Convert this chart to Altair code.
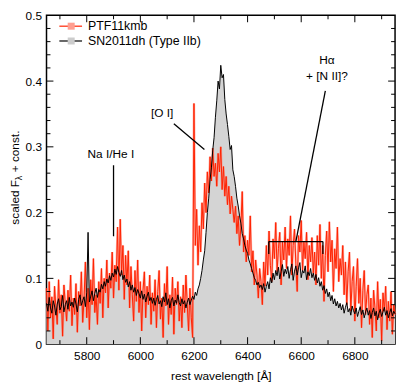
import altair as alt
import pandas as pd

# ---------------- data ----------------
wavelength = list(range(5650, 6955, 5))

sn2011dh = [
    0.062, 0.050, 0.071, 0.055, 0.047, 0.066, 0.058, 0.044, 0.061, 0.069, 0.052, 0.057, 0.074, 0.049, 0.060, 0.066, 0.053, 0.071, 0.058, 0.064,
    0.056, 0.070, 0.061, 0.049, 0.068, 0.075, 0.059, 0.066, 0.072, 0.057, 0.078, 0.170, 0.064, 0.073, 0.081, 0.066, 0.077, 0.085, 0.071, 0.083,
    0.079, 0.091, 0.084, 0.095, 0.088, 0.099, 0.093, 0.104, 0.097, 0.108, 0.102, 0.114, 0.106, 0.118, 0.109, 0.103, 0.112, 0.098, 0.105, 0.094,
    0.099, 0.087, 0.095, 0.082, 0.090, 0.079, 0.086, 0.074, 0.083, 0.077, 0.070, 0.081, 0.068, 0.076, 0.064, 0.073, 0.079, 0.066, 0.071, 0.062,
    0.070, 0.059, 0.068, 0.074, 0.061, 0.066, 0.057, 0.072, 0.064, 0.078, 0.060, 0.069, 0.055, 0.066, 0.071, 0.058, 0.067, 0.062, 0.075, 0.063,
    0.058, 0.069, 0.061, 0.066, 0.055, 0.064, 0.070, 0.060, 0.067, 0.073, 0.068, 0.079, 0.074, 0.084, 0.090, 0.100, 0.112, 0.128, 0.142, 0.170,
    0.200, 0.222, 0.250, 0.268, 0.295, 0.314, 0.345, 0.370, 0.400, 0.388, 0.424, 0.405, 0.410, 0.372, 0.350, 0.334, 0.316, 0.296, 0.302, 0.265,
    0.255, 0.240, 0.222, 0.210, 0.195, 0.184, 0.168, 0.160, 0.150, 0.143, 0.138, 0.128, 0.122, 0.115, 0.108, 0.101, 0.097, 0.090, 0.094, 0.086,
    0.090, 0.083, 0.092, 0.079, 0.088, 0.095, 0.084, 0.101, 0.093, 0.108, 0.098, 0.112, 0.104, 0.117, 0.099, 0.110, 0.121, 0.103, 0.114, 0.107,
    0.118, 0.100, 0.113, 0.122, 0.097, 0.111, 0.119, 0.105, 0.116, 0.124, 0.101, 0.112, 0.108, 0.119, 0.098, 0.110, 0.104, 0.115, 0.101, 0.108,
    0.097, 0.106, 0.093, 0.101, 0.088, 0.095, 0.082, 0.089, 0.077, 0.084, 0.072, 0.079, 0.066, 0.074, 0.061, 0.069, 0.058, 0.065, 0.055, 0.062,
    0.052, 0.060, 0.047, 0.056, 0.063, 0.049, 0.054, 0.044, 0.058, 0.051, 0.046, 0.055, 0.042, 0.050, 0.057, 0.045, 0.052, 0.040, 0.049, 0.055,
    0.044, 0.051, 0.039, 0.048, 0.055, 0.043, 0.050, 0.037, 0.047, 0.053, 0.042, 0.049, 0.056, 0.044, 0.051, 0.040, 0.048, 0.054, 0.043, 0.050,
    0.046,
]

ptf11kmb = [
    0.085, 0.020, 0.095, 0.040, 0.072, 0.008, 0.088, 0.055, 0.030, 0.098, 0.047, 0.075, 0.012, 0.090, 0.062, 0.035, 0.082, 0.050, 0.105, 0.028,
    0.070, 0.045, 0.092, 0.018, 0.080, 0.058, 0.110, 0.033, 0.068, 0.125, 0.040, 0.085, 0.022, 0.098, 0.060, 0.130, 0.048, 0.075, 0.030, 0.095,
    0.062, 0.115, 0.040, 0.100, 0.078, 0.128, 0.055, 0.108, 0.085, 0.140, 0.070, 0.120, 0.095, 0.178, 0.082, 0.190, 0.105, 0.150, 0.068, 0.135,
    0.090, 0.142, 0.055, 0.118, 0.075, 0.035, 0.112, 0.065, 0.128, 0.048, 0.095, 0.020, 0.082, 0.110, 0.040, 0.088, 0.060, 0.105, 0.030, 0.078,
    0.050, 0.098, 0.025, 0.080, 0.112, 0.038, 0.070, 0.010, 0.092, 0.058, 0.118, 0.030, 0.075, 0.045, 0.102, 0.015, 0.085, 0.060, 0.095, 0.035,
    0.072, 0.025, 0.090, 0.048, 0.105, 0.060, 0.020, 0.085, 0.040, 0.010, 0.366, 0.150, 0.205, 0.120, 0.180, 0.140, 0.215, 0.175, 0.245, 0.200,
    0.262, 0.230, 0.285, 0.248, 0.298, 0.255, 0.275, 0.240, 0.290, 0.262, 0.300, 0.235, 0.270, 0.225, 0.255, 0.212, 0.240, 0.198, 0.225, 0.205,
    0.185, 0.210, 0.168, 0.195, 0.150, 0.178, 0.232, 0.140, 0.165, 0.125, 0.158, 0.135, 0.195, 0.110, 0.142, 0.090, 0.128, 0.105, 0.070, 0.115,
    0.095, 0.060, 0.125, 0.088, 0.150, 0.105, 0.172, 0.120, 0.095, 0.160, 0.130, 0.185, 0.110, 0.145, 0.170, 0.090, 0.155, 0.128, 0.178, 0.115,
    0.160, 0.135, 0.195, 0.105, 0.150, 0.175, 0.122, 0.080, 0.165, 0.140, 0.188, 0.112, 0.155, 0.130, 0.170, 0.098, 0.150, 0.125, 0.162, 0.108,
    0.140, 0.090, 0.165, 0.120, 0.182, 0.100, 0.150, 0.065, 0.135, 0.172, 0.110, 0.186, 0.125, 0.158, 0.080, 0.145, 0.115, 0.178, 0.095, 0.130,
    0.105, 0.150, 0.075, 0.125, 0.060, 0.110, 0.140, 0.050, 0.095, 0.118, 0.035, 0.088, 0.130, 0.062, 0.100, 0.025, 0.082, 0.112, 0.045, 0.075,
    0.090, 0.030, 0.070, 0.010, 0.082, 0.055, 0.020, 0.095, 0.040, 0.068, 0.005, 0.078, 0.050, 0.088, 0.022, 0.065, 0.035, 0.080, 0.015, 0.060,
    0.045,
]

x_label_values = [5800, 6000, 6200, 6400, 6600, 6800]
x_minor_ticks = [5700, 5900, 6100, 6300, 6500, 6700, 6900]
y_label_values = [0, 0.1, 0.2, 0.3, 0.4, 0.5]
y_major_ticks = [0.1, 0.2, 0.3, 0.4]
y_minor_ticks = [0.02, 0.04, 0.06, 0.08, 0.12, 0.14, 0.16, 0.18, 0.22, 0.24, 0.26, 0.28,
                 0.32, 0.34, 0.36, 0.38, 0.42, 0.44, 0.46, 0.48]

legend_labels = ["PTF11kmb", "SN2011dh (Type IIb)"]

# annotation texts and anchor points (data coordinates)
ann_text = ["Na I/He I", "[O I]", "Hα", "+ [N II]?"]
ann_text_x = [5890, 6081, 6696, 6696]
ann_text_y = [0.289, 0.351, 0.432, 0.407]

ann_seg_x = [5900, 6125, 6580, 6479, 6479, 6681]
ann_seg_y = [0.272, 0.335, 0.156, 0.156, 0.156, 0.156]
ann_seg_x2 = [5900, 6239, 6690, 6681, 6479, 6681]
ann_seg_y2 = [0.164, 0.296, 0.385, 0.156, 0.137, 0.137]

# ---------------- layout ----------------
W, H = 353, 333
FONT = "Liberation Sans"
RED = "#ff2200"

spec = pd.DataFrame({"wl": wavelength, "sn": sn2011dh, "ptf": ptf11kmb})
xs = alt.Scale(domain=[5650, 6950], nice=False, zero=False)
ys = alt.Scale(domain=[0, 0.5], nice=False, zero=True)

x_axis = alt.Axis(values=x_label_values, format="d", ticks=False, domain=False, grid=False,
                  labelPadding=7, title="rest wavelength [Å]", titlePadding=9)
y_axis = alt.Axis(values=y_label_values, ticks=False, domain=False, grid=False,
                  labelExpr="datum.value == 0 ? '0' : format(datum.value, '.1f')",
                  labelPadding=5, title=None)


def X(field):
    return alt.X(field, scale=xs, axis=x_axis)


def Y(field):
    return alt.Y(field, scale=ys, axis=y_axis)


area = alt.Chart(spec).mark_area(color="#d4d4d4").encode(x=X("wl:Q"), y=Y("sn:Q"))
red_halo = alt.Chart(spec).mark_line(color="#ff7a6a", strokeWidth=2.4, opacity=0.55).encode(
    x=X("wl:Q"), y=Y("ptf:Q"))
red_line = alt.Chart(spec).mark_line(color=RED, strokeWidth=1).encode(x=X("wl:Q"), y=Y("ptf:Q"))
black_line = alt.Chart(spec).mark_line(color="black", strokeWidth=1).encode(x=X("wl:Q"), y=Y("sn:Q"))

# inward tick marks on all four sides
xt_major = pd.DataFrame({"wl": x_label_values})
xt_minor = pd.DataFrame({"wl": x_minor_ticks})
yt_major = pd.DataFrame({"sn": y_major_ticks})
yt_minor = pd.DataFrame({"sn": y_minor_ticks})


def xticks(df, length):
    bottom = alt.Chart(df).mark_rule(color="black", strokeWidth=1).encode(
        x=X("wl:Q"), y=alt.value(H), y2=alt.value(H - length))
    top = alt.Chart(df).mark_rule(color="black", strokeWidth=1).encode(
        x=X("wl:Q"), y=alt.value(0), y2=alt.value(length))
    return [bottom, top]


def yticks(df, length):
    left = alt.Chart(df).mark_rule(color="black", strokeWidth=1).encode(
        y=Y("sn:Q"), x=alt.value(0), x2=alt.value(length))
    right = alt.Chart(df).mark_rule(color="black", strokeWidth=1).encode(
        y=Y("sn:Q"), x=alt.value(W), x2=alt.value(W - length))
    return [left, right]


tick_layers = xticks(xt_major, 7) + xticks(xt_minor, 4) + yticks(yt_major, 7) + yticks(yt_minor, 4)

# annotations
ann_t = pd.DataFrame({"t": ann_text, "wl": ann_text_x, "sn": ann_text_y})
ann_s = pd.DataFrame({"wl": ann_seg_x, "sn": ann_seg_y, "wl2": ann_seg_x2, "sn2": ann_seg_y2})
ann_texts = alt.Chart(ann_t).mark_text(font=FONT, fontSize=12, color="black",
                                       align="center", baseline="middle").encode(
    x=X("wl:Q"), y=Y("sn:Q"), text="t:N")
ann_segs = alt.Chart(ann_s).mark_rule(color="black", strokeWidth=1.3).encode(
    x=X("wl:Q"), y=Y("sn:Q"), x2="wl2:Q", y2="sn2:Q")

# legend (drawn by hand: line with a square marker)
one = pd.DataFrame({"k": [0]})
leg_layers = [
    alt.Chart(one).mark_rule(color=RED, strokeWidth=1.2).encode(
        x=alt.value(13), x2=alt.value(36), y=alt.value(11)),
    alt.Chart(one).mark_square(color="#ff9e90", opacity=1, size=50).encode(
        x=alt.value(25), y=alt.value(11)),
    alt.Chart(one).mark_rule(color="black", strokeWidth=1.2).encode(
        x=alt.value(13), x2=alt.value(36), y=alt.value(26)),
    alt.Chart(one).mark_square(color="#cccccc", opacity=1, size=50).encode(
        x=alt.value(25), y=alt.value(26)),
    alt.Chart(one).mark_text(font=FONT, fontSize=12.5, color="black", align="left",
                             baseline="middle").encode(
        x=alt.value(42), y=alt.value(11), text=alt.value(legend_labels[0])),
    alt.Chart(one).mark_text(font=FONT, fontSize=12.5, color="black", align="left",
                             baseline="middle").encode(
        x=alt.value(42), y=alt.value(26), text=alt.value(legend_labels[1])),
]

# y-axis title with subscript lambda
ytitle_layers = [
    alt.Chart(one).mark_text(font=FONT, fontSize=12, angle=270, align="left",
                             baseline="middle", color="black").encode(
        x=alt.value(-32), y=alt.value(212), text=alt.value("scaled F")),
    alt.Chart(one).mark_text(font=FONT, fontSize=9, angle=270, align="left",
                             baseline="middle", color="black").encode(
        x=alt.value(-28), y=alt.value(167), text=alt.value("λ")),
    alt.Chart(one).mark_text(font=FONT, fontSize=12, angle=270, align="left",
                             baseline="middle", color="black").encode(
        x=alt.value(-32), y=alt.value(159), text=alt.value("+ const.")),
]

chart = alt.layer(
    area, red_halo, red_line, black_line, *tick_layers, ann_segs, ann_texts,
    *leg_layers, *ytitle_layers,
).properties(
    width=W, height=H,
    autosize=alt.AutoSizeParams(type="none"),
    padding={"left": 39, "top": 5, "right": 4, "bottom": 40},
).configure_view(
    stroke="black", strokeWidth=1.5
).configure_axis(
    labelFont=FONT, labelFontSize=12, labelColor="black",
    titleFont=FONT, titleFontSize=12, titleFontWeight="normal", titleColor="black",
)

chart.save("out.html", embed_options={"renderer": "svg", "actions": False})
